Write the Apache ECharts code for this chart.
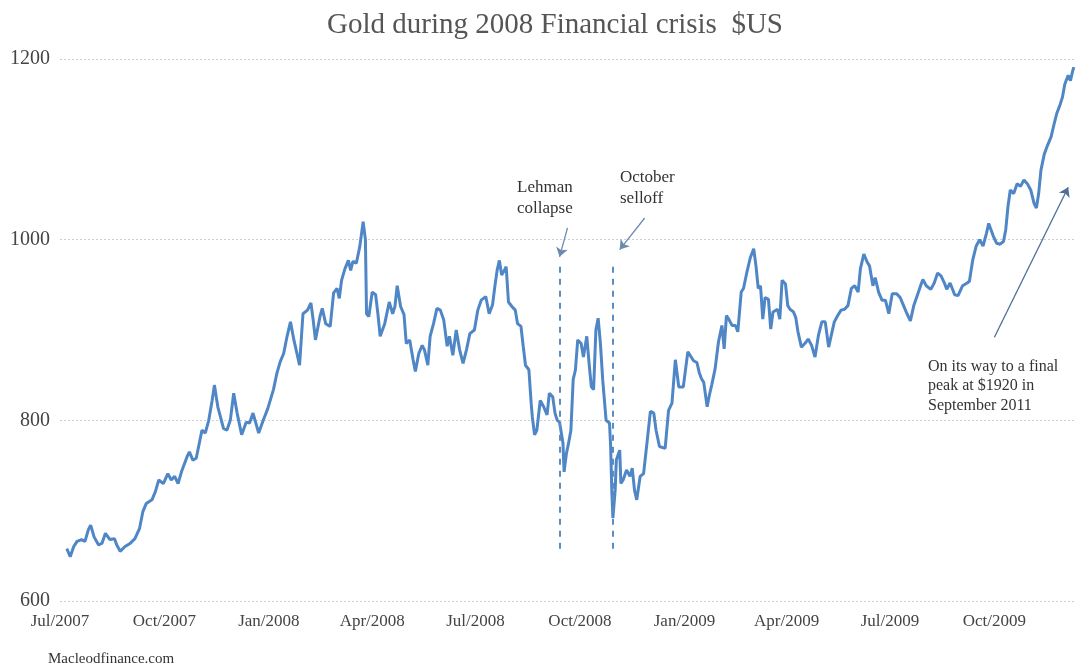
<!DOCTYPE html>
<html>
<head>
<meta charset="utf-8">
<script src="https://cdn.jsdelivr.net/npm/echarts@6/dist/echarts.min.js"></script>
<style>
  html, body { margin: 0; padding: 0; background: #ffffff; }
  #chart { width: 1076px; height: 670px; }
</style>
</head>
<body>
<div id="chart"></div>
<script>
// ---- Data ----
const dates = [
'2007-07-07','2007-07-10','2007-07-13','2007-07-16','2007-07-20','2007-07-23','2007-07-26','2007-07-28','2007-07-31',
'2007-08-04','2007-08-07','2007-08-10','2007-08-14','2007-08-18','2007-08-20','2007-08-23','2007-08-27',
'2007-09-01','2007-09-05','2007-09-09','2007-09-12','2007-09-15','2007-09-20','2007-09-23','2007-09-26','2007-09-30',
'2007-10-04','2007-10-07','2007-10-10','2007-10-13','2007-10-16','2007-10-21','2007-10-23','2007-10-26','2007-10-29',
'2007-11-03','2007-11-06','2007-11-09','2007-11-12','2007-11-14','2007-11-17','2007-11-22','2007-11-25','2007-11-28',
'2007-12-01','2007-12-04','2007-12-08','2007-12-12','2007-12-15','2007-12-18','2007-12-23','2007-12-27','2007-12-31',
'2008-01-05','2008-01-08','2008-01-11','2008-01-14','2008-01-17','2008-01-20','2008-01-23','2008-01-25','2008-01-28','2008-01-31',
'2008-02-04','2008-02-07','2008-02-09','2008-02-11','2008-02-15','2008-02-17','2008-02-20','2008-02-24','2008-02-27',
'2008-03-01','2008-03-03','2008-03-05','2008-03-08','2008-03-11','2008-03-13','2008-03-15','2008-03-18','2008-03-21','2008-03-24','2008-03-26','2008-03-27','2008-03-29',
'2008-04-01','2008-04-04','2008-04-06','2008-04-08','2008-04-12','2008-04-16','2008-04-19','2008-04-21','2008-04-23','2008-04-26','2008-04-29',
'2008-05-01','2008-05-04','2008-05-07','2008-05-09','2008-05-12','2008-05-15','2008-05-17','2008-05-20','2008-05-22','2008-05-25','2008-05-28','2008-05-31',
'2008-06-03','2008-06-06','2008-06-08','2008-06-11','2008-06-14','2008-06-17','2008-06-20','2008-06-23','2008-06-26','2008-06-30',
'2008-07-03','2008-07-06','2008-07-10','2008-07-13','2008-07-16','2008-07-18','2008-07-20','2008-07-22','2008-07-24','2008-07-26','2008-07-28','2008-07-30',
'2008-08-02','2008-08-05','2008-08-07','2008-08-10','2008-08-12','2008-08-14','2008-08-17','2008-08-19','2008-08-20','2008-08-22','2008-08-24','2008-08-27','2008-08-30',
'2008-09-02','2008-09-04','2008-09-07','2008-09-09','2008-09-11','2008-09-13','2008-09-16','2008-09-17','2008-09-19','2008-09-21','2008-09-23','2008-09-25','2008-09-27','2008-09-29',
'2008-10-02','2008-10-04','2008-10-07','2008-10-09','2008-10-11','2008-10-13','2008-10-15','2008-10-17','2008-10-19','2008-10-21','2008-10-24','2008-10-27','2008-10-28','2008-10-29','2008-10-30',
'2008-11-01','2008-11-02','2008-11-05','2008-11-06','2008-11-08','2008-11-11','2008-11-14','2008-11-16','2008-11-18','2008-11-20','2008-11-23','2008-11-26','2008-11-29',
'2008-12-02','2008-12-05','2008-12-07','2008-12-10','2008-12-15','2008-12-18','2008-12-21','2008-12-24','2008-12-27','2008-12-31',
'2009-01-04','2009-01-09','2009-01-12','2009-01-14','2009-01-16','2009-01-18','2009-01-21','2009-01-23','2009-01-25','2009-01-28','2009-01-31',
'2009-02-03','2009-02-05','2009-02-07','2009-02-09','2009-02-12','2009-02-15','2009-02-17','2009-02-20','2009-02-22','2009-02-25','2009-02-28',
'2009-03-03','2009-03-05','2009-03-07','2009-03-09','2009-03-11','2009-03-13','2009-03-16','2009-03-18','2009-03-20','2009-03-24','2009-03-26','2009-03-28','2009-03-31',
'2009-04-02','2009-04-04','2009-04-07','2009-04-09','2009-04-11','2009-04-14','2009-04-17','2009-04-20','2009-04-23','2009-04-26','2009-04-29',
'2009-05-02','2009-05-05','2009-05-08','2009-05-11','2009-05-13','2009-05-16','2009-05-19','2009-05-22','2009-05-25','2009-05-28','2009-05-31',
'2009-06-03','2009-06-05','2009-06-08','2009-06-11','2009-06-13','2009-06-16','2009-06-18','2009-06-21','2009-06-24','2009-06-27','2009-06-30',
'2009-07-03','2009-07-07','2009-07-10','2009-07-13','2009-07-16','2009-07-19','2009-07-22','2009-07-25','2009-07-28','2009-07-30',
'2009-08-02','2009-08-06','2009-08-09','2009-08-12','2009-08-15','2009-08-18','2009-08-20','2009-08-23','2009-08-27','2009-08-30',
'2009-09-03','2009-09-07','2009-09-09','2009-09-12','2009-09-15','2009-09-18','2009-09-21','2009-09-24','2009-09-26','2009-09-28','2009-09-30',
'2009-10-03','2009-10-06','2009-10-09','2009-10-11','2009-10-13','2009-10-15','2009-10-18','2009-10-21','2009-10-24','2009-10-27','2009-10-30',
'2009-11-02','2009-11-05','2009-11-07','2009-11-09','2009-11-11','2009-11-14','2009-11-17','2009-11-20','2009-11-22','2009-11-25','2009-11-28','2009-11-30',
'2009-12-02','2009-12-05','2009-12-07','2009-12-09','2009-12-10'
];
const goldPrice = [
658,649,660,666,668,666,679,684,671,
662,664,675,668,669,662,655,660,
664,669,680,699,708,712,721,734,730,
741,734,738,730,743,760,765,756,758,
789,786,800,822,839,815,791,789,800,
830,808,784,798,797,808,786,800,813,
834,852,865,874,893,909,889,878,861,918,
922,930,911,889,915,924,907,904,941,
946,935,955,968,977,966,976,974,992,1020,1000,918,915,
942,939,918,893,907,931,918,926,949,926,917,
885,889,867,854,874,883,878,861,893,907,924,922,
911,882,893,872,900,878,863,878,896,900,
922,933,937,918,928,948,966,977,961,965,970,931,
926,922,907,904,882,861,856,819,804,784,789,822,815,
806,830,826,808,800,798,775,743,763,775,789,845,856,889,
885,870,893,863,837,834,900,913,885,845,800,797,771,723,692,
723,756,767,730,734,745,738,747,723,712,738,741,775,
810,808,789,771,769,811,819,867,837,837,
876,866,864,853,846,842,815,828,839,857,887,
905,879,916,912,905,905,898,942,946,964,980,
990,971,946,949,912,936,934,901,920,923,912,955,951,
927,923,920,914,898,881,885,890,883,870,894,
909,909,881,898,909,916,922,923,927,946,949,
942,968,984,975,971,949,958,942,933,933,918,
940,940,936,927,918,910,927,938,949,956,
949,945,952,963,960,952,945,952,939,938,
949,952,954,978,993,1000,993,1007,1018,1011,1004,
996,995,998,1011,1037,1055,1051,1062,1059,1066,1062,
1055,1040,1035,1051,1077,1095,1105,1114,1125,1140,1150,1158,
1172,1182,1176,1187,1191
];
const tickDates = ['2007-07-01','2007-10-01','2008-01-01','2008-04-01','2008-07-01','2008-10-01','2009-01-01','2009-04-01','2009-07-01','2009-10-01'];
const tickLabels = ['Jul/2007','Oct/2007','Jan/2008','Apr/2008','Jul/2008','Oct/2008','Jan/2009','Apr/2009','Jul/2009','Oct/2009'];
const axisStart = '2007-07-01';
const axisEnd = '2009-12-11';

// annotation anchors (date, price)
const lehmanDate = '2008-09-13';
const octoberDate = '2008-10-30';
const eventLineRange = [653, 970];
const lehmanArrow = [['2008-09-20', 1013], ['2008-09-13', 981]];
const octoberArrow = [['2008-11-27', 1024], ['2008-11-05', 989]];
const finalArrow = [['2009-10-01', 892], ['2009-12-05', 1058]];

// ---- Chart ----
const toTime = s => { const p = s.split('-').map(Number); return Date.UTC(p[0], p[1] - 1, p[2]); };
const seriesData = dates.map((d, i) => [toTime(d), goldPrice[i]]);
const tickTimes = tickDates.map(toTime);
const FONT = '"Liberation Serif", "DejaVu Serif", serif';

const dashedStyle = { type: [6, 6], width: 2, color: '#5b8cc6' };
const arrowStyle = { type: 'solid', width: 1.3, color: '#6c8bb0' };

const chart = echarts.init(document.getElementById('chart'), null, { renderer: 'canvas' });
chart.setOption({
  animation: false,
  backgroundColor: '#ffffff',
  title: {
    text: 'Gold during 2008 Financial crisis  $US',
    left: 550, top: 6, textAlign: 'center',
    textStyle: { fontFamily: FONT, fontSize: 29, fontWeight: 'normal', color: '#555555' }
  },
  grid: { left: 60, right: 1, top: 59, bottom: 69, containLabel: false },
  xAxis: {
    type: 'value',
    min: toTime(axisStart),
    max: toTime(axisEnd),
    axisLine: { show: false },
    axisTick: { show: false },
    splitLine: { show: false },
    axisLabel: {
      customValues: tickTimes,
      formatter: v => { const i = tickTimes.indexOf(v); return i >= 0 ? tickLabels[i] : ''; },
      fontFamily: FONT, fontSize: 17, color: '#444444', margin: 12,
      showMinLabel: true, showMaxLabel: true
    }
  },
  yAxis: {
    type: 'value',
    min: 600, max: 1200, interval: 200,
    axisLine: { show: false },
    axisTick: { show: false },
    splitLine: { show: true, lineStyle: { color: '#cfcfcf', width: 1, type: [2, 2] } },
    axisLabel: { formatter: v => String(v), fontFamily: FONT, fontSize: 20, color: '#444444', margin: 10 }
  },
  series: [{
    type: 'line',
    data: seriesData,
    showSymbol: false,
    symbol: 'none',
    lineStyle: { color: '#4f86c6', width: 3 },
    z: 3,
    markLine: {
      silent: true,
      animation: false,
      label: { show: false },
      symbol: ['none', 'none'],
      data: [
        [{ coord: [toTime(lehmanDate), eventLineRange[1]], lineStyle: dashedStyle }, { coord: [toTime(lehmanDate), eventLineRange[0]] }],
        [{ coord: [toTime(octoberDate), eventLineRange[1]], lineStyle: dashedStyle }, { coord: [toTime(octoberDate), eventLineRange[0]] }],
        [{ coord: [toTime(lehmanArrow[0][0]), lehmanArrow[0][1]], lineStyle: arrowStyle, symbol: 'none' },
         { coord: [toTime(lehmanArrow[1][0]), lehmanArrow[1][1]], symbol: 'arrow', symbolSize: 9 }],
        [{ coord: [toTime(octoberArrow[0][0]), octoberArrow[0][1]], lineStyle: arrowStyle, symbol: 'none' },
         { coord: [toTime(octoberArrow[1][0]), octoberArrow[1][1]], symbol: 'arrow', symbolSize: 9 }],
        [{ coord: [toTime(finalArrow[0][0]), finalArrow[0][1]], lineStyle: { type: 'solid', width: 1.3, color: '#4d6f96' }, symbol: 'none' },
         { coord: [toTime(finalArrow[1][0]), finalArrow[1][1]], symbol: 'arrow', symbolSize: 9 }]
      ]
    }
  }],
  graphic: [
    { type: 'text', left: 517, top: 177, style: { text: 'Lehman\ncollapse', font: '17px ' + FONT, fill: '#333333', lineHeight: 21, align: 'center' } },
    { type: 'text', left: 620, top: 167, style: { text: 'October\nselloff', font: '17px ' + FONT, fill: '#333333', lineHeight: 21, align: 'center' } },
    { type: 'text', left: 928, top: 357, style: { text: 'On its way to a final\npeak at $1920 in\nSeptember 2011', font: '16px ' + FONT, fill: '#333333', lineHeight: 19.5 } },
    { type: 'text', left: 48, top: 652, style: { text: 'Macleodfinance.com', font: '15px ' + FONT, fill: '#333333' } }
  ]
});
</script>
</body>
</html>
